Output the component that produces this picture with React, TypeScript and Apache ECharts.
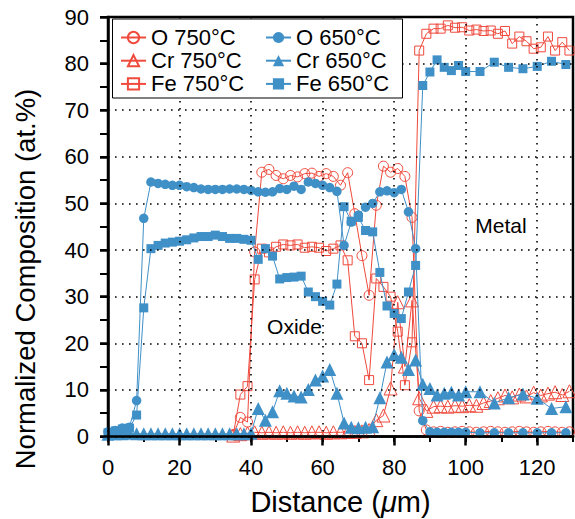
import { useEffect, useRef } from 'react';
import * as echarts from 'echarts';

// Distance positions (µm)
const redX = [35, 37, 39, 41, 43, 45, 47, 49, 51, 53, 55, 57, 59, 61, 63, 65, 67, 69, 71, 73, 75, 77, 79, 81, 83, 85, 87, 89,
  91, 93, 95, 97, 99, 101, 103, 105, 107, 109, 111, 113, 115, 117, 119, 121, 123, 125, 127, 129];
const blueX = [0, 2, 4, 6, 8, 10, 12, 14, 16, 18, 20, 22, 24, 26, 28, 30, 32, 34, 36, 38, 40, 42, 44, 46, 48, 50, 52, 54, 56, 58,
  60, 62, 64, 66, 68, 70, 72, 74, 76, 78, 80, 82, 84, 86, 88, 90, 92, 94, 96, 98, 100, 104, 108, 112, 116, 120, 124, 128];

// 750 °C
const o750 = [0.4, 4.1, 3.1, 39.6, 56.7, 57.3, 56.0, 55.3, 56.0, 55.7, 56.4, 56.5, 55.8, 56.4, 55.8, 53.9, 56.6, 47.8, 38.8, 30.3,
  49.6, 58.0, 56.7, 57.5, 55.8, 47.0, 5.5, 1.4,
  1.0, 1.1, 0.9, 1.0, 1.1, 1.0, 0.9, 1.0, 1.1, 1.0, 0.9, 1.0, 1.1, 1.0, 0.9, 1.0, 1.1, 1.0, 0.9, 1.0];
const cr750 = [0.2, 0.5, 0.7, 0.9, 0.8, 0.9, 0.8, 0.9, 0.8, 0.9, 0.8, 0.9, 0.9, 0.8, 0.9, 0.9, 1.0, 1.0, 1.1, 1.4,
  3.5, 4.5, 10.3, 28.8, 15.0, 29.2, 8.2, 5.5,
  6.4, 6.5, 6.4, 6.6, 6.5, 6.7, 6.6, 7.2, 7.6, 8.2, 8.8, 8.4, 9.0, 8.6, 9.4, 8.8, 9.2, 9.5, 8.9, 9.7];
const fe750 = [0.3, 9.0, 10.8, 33.7, 40.3, 39.5, 40.7, 41.2, 41.0, 41.2, 40.5, 40.7, 40.5, 39.8, 40.3, 41.0, 37.8, 21.5, 20.0, 12.1,
  33.9, 32.1, 30.0, 22.5, 11.0, 20.2, 82.8, 86.4,
  87.5, 87.5, 88.2, 87.7, 87.8, 87.1, 87.3, 87.0, 87.1, 86.4, 87.0, 84.3, 85.8, 84.8, 83.2, 83.5, 85.8, 82.8, 84.6, 82.8];

// 650 °C
const o650 = [1.0, 1.3, 1.8, 2.0, 7.7, 46.8, 54.6, 54.3, 54.1, 53.9, 53.9, 53.6, 53.4, 53.1, 53.0, 53.0, 53.0, 53.1, 53.1, 53.0,
  52.8, 52.5, 52.4, 52.5, 53.2, 53.0, 53.7, 53.0, 54.6, 54.3, 53.9, 53.4, 52.6, 41.0, 46.0, 47.5, 49.2, 50.0, 52.5, 52.7,
  52.3, 53.0, 48.2, 40.3, 3.4, 1.0, 0.9, 0.9, 0.9, 0.9, 0.9, 0.8, 0.8, 0.8, 0.8, 0.8, 0.8, 0.8];
const cr650 = [0.5, 0.6, 0.6, 0.7, 0.6, 0.6, 0.6, 0.6, 0.6, 0.6, 0.6, 0.6, 0.6, 0.6, 0.6, 0.6, 0.6, 0.6, 0.6, 0.6,
  0.7, 6.0, 3.5, 5.3, 9.8, 9.3, 8.7, 8.5, 10.1, 12.1, 13.0, 14.4, 9.3, 2.9, 2.0, 1.9, 2.0, 2.1, 8.3, 16.0,
  17.6, 17.0, 14.4, 16.4, 11.2, 10.3, 8.9, 9.3, 9.5, 8.9, 9.6, 9.6, 7.2, 8.3, 9.1, 8.2, 6.0, 6.4];
const fe650 = [0.8, 1.2, 1.6, 1.8, 4.6, 27.6, 40.3, 41.0, 41.5, 41.7, 41.9, 42.2, 42.6, 42.9, 42.9, 43.2, 42.9, 42.5, 42.5, 42.3,
  42.1, 38.0, 40.3, 38.7, 33.8, 34.1, 34.2, 34.4, 31.0, 30.0, 29.0, 28.2, 32.7, 49.3, 46.2, 47.0, 44.2, 43.9, 35.2, 28.0,
  26.4, 25.3, 31.0, 36.7, 75.3, 78.2, 80.8, 79.2, 78.5, 79.6, 78.3, 78.3, 80.3, 79.2, 78.9, 79.4, 80.5, 79.8];

const names750 = ['O 750°C', 'Cr 750°C', 'Fe 750°C'];
const names650 = ['O 650°C', 'Cr 650°C', 'Fe 650°C'];

const RED = '#ef4a3c';
const BLUE = '#4090c8';
const FONT = "'Liberation Sans', Arial, Helvetica, sans-serif";

function pairs(xs: number[], ys: number[]) {
  return xs.map((x, i) => [x, ys[i]]);
}

export default function App() {
  const ref = useRef<HTMLDivElement>(null);
  useEffect(() => {
    const chart = echarts.init(ref.current!, null, { renderer: 'svg' });
    const openSeries = (name: string, symbol: string, size: number, ys: number[]) => ({
      name,
      type: 'line',
      data: pairs(redX, ys),
      symbol,
      symbolSize: size,
      showAllSymbol: true,
      clip: false,
      lineStyle: { color: RED, width: 1 },
      itemStyle: { color: 'rgba(255,255,255,0)', borderColor: RED, borderWidth: 1 },
      emphasis: { disabled: true },
      z: 2,
    });
    const fillSeries = (name: string, symbol: string, size: number, ys: number[]) => ({
      name,
      type: 'line',
      data: pairs(blueX, ys),
      symbol,
      symbolSize: size,
      showAllSymbol: true,
      clip: false,
      lineStyle: { color: BLUE, width: 1 },
      itemStyle: { color: BLUE, borderWidth: 0 },
      emphasis: { disabled: true },
      z: 3,
    });
    const legendText = { fontSize: 22, fontFamily: FONT, color: '#000' };
    const axisLabelStyle = { fontSize: 22, fontFamily: FONT, color: '#000' };
    chart.setOption({
      animation: false,
      backgroundColor: '#fff',
      grid: {
        left: 108, right: 2, top: 17, bottom: 82.5,
        outerBoundsMode: 'none', containLabel: false,
        show: true, borderColor: '#000', borderWidth: 2.5, backgroundColor: 'transparent',
      },
      legend: [
        {
          data: names750, orient: 'vertical', left: 120, top: 26.5, padding: 0,
          itemWidth: 25, itemHeight: 14, itemGap: 1.2, textStyle: legendText, z: 6,
        },
        {
          data: names650, orient: 'vertical', left: 265, top: 26.5, padding: 0,
          itemWidth: 25, itemHeight: 14, itemGap: 1.2, textStyle: legendText, z: 6,
        },
      ],
      xAxis: [
        {
          type: 'value', min: 0, max: 130, interval: 20,
          name: '{n|Distance (}{i|μ}{n|m)}',
          nameLocation: 'middle', nameGap: 51,
          nameTextStyle: {
            rich: {
              n: { fontSize: 29, fontFamily: FONT, color: '#000' },
              i: { fontSize: 29, fontFamily: FONT, color: '#000', fontStyle: 'italic' },
            },
          },
          axisLine: { show: true, lineStyle: { color: '#000', width: 2.5 } },
          axisTick: { show: true, inside: false, length: 9, lineStyle: { color: '#000', width: 2.5 } },
          axisLabel: { ...axisLabelStyle, margin: 20, showMaxLabel: false },
          splitLine: { show: true, lineStyle: { color: '#000', width: 1.6, type: [1.6, 5.4] } },
          z: 4,
        },
        {
          type: 'value', min: 0, max: 130, interval: 10, position: 'bottom',
          axisLine: { show: false },
          axisTick: { show: true, inside: false, length: 5.5, lineStyle: { color: '#000', width: 2 } },
          axisLabel: { show: false },
          splitLine: { show: false },
        },
      ],
      yAxis: [
        {
          type: 'value', min: 0, max: 90, interval: 10,
          axisLine: { show: true, lineStyle: { color: '#000', width: 2.5 } },
          axisTick: { show: true, inside: false, length: 8, lineStyle: { color: '#000', width: 2.5 } },
          axisLabel: { ...axisLabelStyle, margin: 19 },
          splitLine: { show: true, lineStyle: { color: '#000', width: 1.6, type: [1.6, 5.4] } },
          z: 4,
        },
        {
          type: 'value', min: 0, max: 90, interval: 5, position: 'left',
          axisLine: { show: false },
          axisTick: { show: true, inside: false, length: 8, lineStyle: { color: '#000', width: 2 } },
          axisLabel: { show: false },
          splitLine: { show: false },
        },
      ],
      graphic: [
        {
          type: 'rect', z: 5,
          shape: { x: 112.5, y: 19, width: 290, height: 79 },
          style: { fill: '#fff', stroke: '#000', lineWidth: 1 },
        },
        {
          type: 'text', x: 25, y: 279, rotation: Math.PI / 2, z: 3,
          style: {
            text: 'Normalized Composition (at.%)', fontSize: 27.5, fontFamily: FONT, fill: '#000',
            align: 'center', verticalAlign: 'middle',
          },
        },
        {
          type: 'text', x: 294.5, y: 326, z: 3,
          style: { text: 'Oxide', fontSize: 21, fontFamily: FONT, fill: '#000', align: 'center', verticalAlign: 'middle' },
        },
        {
          type: 'text', x: 501, y: 225, z: 3,
          style: { text: 'Metal', fontSize: 21, fontFamily: FONT, fill: '#000', align: 'center', verticalAlign: 'middle' },
        },
      ],
      series: [
        openSeries(names750[0], 'circle', 10, o750),
        openSeries(names750[1], 'triangle', 13, cr750),
        openSeries(names750[2], 'rect', 9, fe750),
        fillSeries(names650[0], 'circle', 9.5, o650),
        fillSeries(names650[1], 'triangle', 13, cr650),
        fillSeries(names650[2], 'rect', 9, fe650),
      ],
    });
    return () => chart.dispose();
  }, []);
  return <div ref={ref} style={{ position: 'fixed', left: 0, top: 0, width: 575, height: 519 }} />;
}
